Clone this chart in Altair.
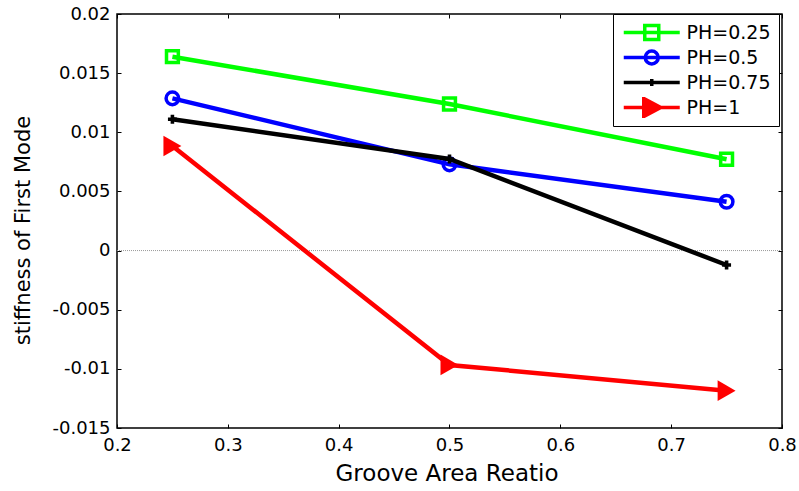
import altair as alt
import pandas as pd

x_vals = [0.25, 0.5, 0.75]
series_names = ["PH=0.25", "PH=0.5", "PH=0.75", "PH=1"]
y_ph025 = [0.01639, 0.01239, 0.00772]
y_ph05 = [0.01287, 0.00729, 0.00413]
y_ph075 = [0.0111, 0.00774, -0.00122]
y_ph1 = [0.00884, -0.00967, -0.01185]
colors = ["#00ff00", "#0000ff", "#000000", "#ff0000"]
x_ticks = [0.2, 0.3, 0.4, 0.5, 0.6, 0.7, 0.8]
y_ticks = [-0.015, -0.01, -0.005, 0, 0.005, 0.01, 0.015, 0.02]

rows = []
for name, ys in zip(series_names, [y_ph025, y_ph05, y_ph075, y_ph1]):
    for xv, yv in zip(x_vals, ys):
        rows.append({"x": xv, "y": yv, "series": name})
df = pd.DataFrame(rows)

FONT = "DejaVu Sans"
xscale = alt.Scale(domain=[0.2, 0.8], nice=False, zero=False)
yscale = alt.Scale(domain=[-0.015, 0.02], nice=False, zero=False)

ylabel_expr = "replace(format(datum.value, '.3~f'), '\u2212', '-')"

x_bottom = alt.Axis(orient="bottom", values=x_ticks, format=".1f", grid=False, domain=False,
                    offset=-4, tickSize=4, tickColor="black", labelPadding=8, labelFlush=False,
                    labelOverlap=False, labelFont=FONT, labelFontSize=18, labelColor="black",
                    title="Groove Area Reatio", titleFont=FONT, titleFontSize=23,
                    titleFontWeight="normal", titleColor="black", titleX=329.5, titleY=56,
                    titleBaseline="alphabetic")
y_left = alt.Axis(orient="left", values=y_ticks, labelExpr=ylabel_expr, grid=False, domain=False,
                  offset=-4, tickSize=4, tickColor="black", labelPadding=7, labelFlush=False,
                  labelOverlap=False, labelFont=FONT, labelFontSize=18, labelColor="black",
                  title="stiffness of First Mode", titleFont=FONT, titleFontSize=21,
                  titleFontWeight="normal", titleColor="black", titleX=-92, titleY=216,
                  titleBaseline="alphabetic")
x_top = alt.Axis(orient="top", values=x_ticks, labels=False, title=None, grid=False, domain=False,
                 offset=-4, tickSize=4, tickColor="black")
y_right = alt.Axis(orient="right", values=y_ticks, labels=False, title=None, grid=False, domain=False,
                   offset=-4, tickSize=4, tickColor="black")

base = alt.Chart(df)

axes_main = base.mark_point(opacity=0).encode(
    x=alt.X("x:Q", scale=xscale, axis=x_bottom),
    y=alt.Y("y:Q", scale=yscale, axis=y_left),
)
axes_second = base.mark_point(opacity=0).encode(
    x=alt.X("x:Q", scale=xscale, axis=x_top),
    y=alt.Y("y:Q", scale=yscale, axis=y_right),
)

zero_rule = alt.Chart(pd.DataFrame({"z": [0]})).mark_rule(
    color="#999999", strokeDash=[1, 1], strokeWidth=1
).encode(y=alt.Y("z:Q", scale=yscale, axis=None))

marker_props = {
    "PH=0.25": dict(shape="square", size=140, filled=False, strokeWidth=3.5),
    "PH=0.5": dict(shape="circle", size=160, filled=False, strokeWidth=3.5),
    "PH=0.75": dict(shape="cross", size=80, filled=True, strokeWidth=0),
    "PH=1": dict(shape="triangle-right", size=430, filled=True, strokeWidth=0),
}

series_layers = []
for name, col in zip(series_names, colors):
    sub = base.transform_filter(alt.datum.series == name)
    line = sub.mark_line(color=col, strokeWidth=4.5).encode(
        x=alt.X("x:Q", scale=xscale, axis=None),
        y=alt.Y("y:Q", scale=yscale, axis=None),
    )
    mp = marker_props[name]
    pts = sub.mark_point(color=col, opacity=1, **mp).encode(
        x=alt.X("x:Q", scale=xscale, axis=None),
        y=alt.Y("y:Q", scale=yscale, axis=None),
    )
    series_layers += [line, pts]

line_path = "M-4,0H4"
legend_paths = [
    line_path + "M-1,-1H1V1H-1Z",
    line_path + "M0.93,0A0.93,0.93,0,1,1,-0.93,0A0.93,0.93,0,1,1,0.93,0Z",
    line_path + "M-0.5,0H0.5M0,-0.5V0.5",
    line_path + "M-1.14,-1.29L-1.14,1.29L1.29,0ZM-0.71,-0.57L-0.71,0.57L0.43,0Z",
]

legend_def = alt.Legend(title=None, orient="none", legendX=496, legendY=0,
                        symbolSize=196, symbolStrokeWidth=3.5, symbolOpacity=1,
                        symbolFillColor="transparent",
                        symbolOffset=21.25, labelOffset=25.25,
                        labelFont=FONT, labelFontSize=19, labelColor="black",
                        strokeColor="black", fillColor="white", padding=8,
                        clipHeight=21, rowPadding=4, labelLimit=300)

legend_layer = base.mark_point(opacity=0, strokeWidth=3.5, filled=False).encode(
    x=alt.X("x:Q", scale=xscale, axis=None),
    y=alt.Y("y:Q", scale=yscale, axis=None),
    color=alt.Color("series:N", scale=alt.Scale(domain=series_names, range=colors), legend=legend_def),
    shape=alt.Shape("series:N", scale=alt.Scale(domain=series_names, range=legend_paths),
                    legend=legend_def),
)

chart = alt.layer(
    zero_rule, *series_layers, legend_layer, axes_main, axes_second
).resolve_axis(x="independent", y="independent").properties(
    width=665, height=414,
    autosize=alt.AutoSizeParams(type="none"),
    padding={"left": 117, "top": 14, "right": 17, "bottom": 63},
).configure(background="white").configure_view(stroke="black", strokeWidth=1.5)

chart.save("out.html", embed_options={"renderer": "svg", "actions": False})
